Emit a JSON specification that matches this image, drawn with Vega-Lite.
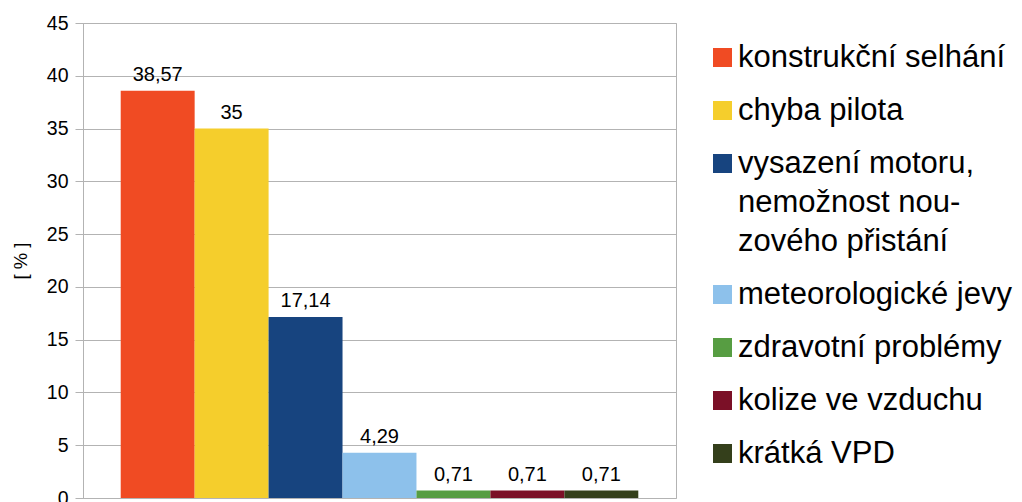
{
  "$schema": "https://vega.github.io/schema/vega-lite/v6.json",
  "width": 593,
  "height": 475,
  "autosize": {"type": "none"},
  "padding": {"left": 83, "top": 23, "right": 346, "bottom": 4},
  "background": "white",
  "data": {
    "values": [
      {"cause": "konstrukční selhání", "pct": 38.57},
      {"cause": "chyba pilota", "pct": 35},
      {"cause": "vysazení motoru, nemožnost nouzového přistání", "pct": 17.14},
      {"cause": "meteorologické jevy", "pct": 4.29},
      {"cause": "zdravotní problémy", "pct": 0.71},
      {"cause": "kolize ve vzduchu", "pct": 0.71},
      {"cause": "krátká VPD", "pct": 0.71}
    ]
  },
  "encoding": {
    "x": {
      "field": "cause",
      "type": "nominal",
      "sort": null,
      "axis": null,
      "scale": {"paddingInner": 0, "paddingOuter": 0.51}
    },
    "y": {
      "field": "pct",
      "type": "quantitative",
      "scale": {"domain": [0, 45], "nice": false},
      "axis": {
        "title": "[ % ]",
        "values": [0, 5, 10, 15, 20, 25, 30, 35, 40, 45],
        "grid": true,
        "gridColor": "#b3b3b3",
        "domainColor": "#b3b3b3",
        "tickColor": "#b3b3b3",
        "tickSize": 8,
        "labelPadding": 7,
        "labelFont": "Liberation Sans",
        "labelFontSize": 19.5,
        "labelColor": "#000000",
        "titleFont": "Liberation Sans",
        "titleFontSize": 18.5,
        "titleFontWeight": "normal",
        "titleColor": "#000000",
        "titlePadding": 16
      }
    }
  },
  "layer": [
    {
      "mark": {"type": "bar"},
      "encoding": {
        "color": {
          "field": "cause",
          "type": "nominal",
          "sort": null,
          "scale": {
            "domain": ["konstrukční selhání", "chyba pilota", "vysazení motoru, nemožnost nouzového přistání", "meteorologické jevy", "zdravotní problémy", "kolize ve vzduchu", "krátká VPD"],
            "range": ["#F04B23", "#F5CE2C", "#17447F", "#8DC1EB", "#579D42", "#7B1027", "#343F1B"]
          },
          "legend": {
            "title": null,
            "orient": "none",
            "legendX": 624,
            "legendY": 19,
            "padding": 0,
            "symbolType": "square",
            "symbolSize": 361,
            "symbolStrokeWidth": 0,
            "labelFont": "Liberation Sans",
            "labelFontSize": 31,
            "labelColor": "#000000",
            "labelLimit": 0,
            "labelOffset": 0,
            "rowPadding": 21,
            "labelExpr": "datum.label == 'vysazení motoru, nemožnost nouzového přistání' ? ['vysazení motoru,', 'nemožnost nou-', 'zového přistání'] : datum.label"
          }
        }
      }
    },
    {
      "mark": {"type": "text", "baseline": "bottom", "dy": -6, "font": "Liberation Sans", "fontSize": 20, "color": "#000000"},
      "encoding": {
        "text": {"field": "pct", "type": "quantitative", "format": ".2~f"}
      }
    }
  ],
  "config": {
    "view": {"stroke": "#b3b3b3"},
    "locale": {"number": {"decimal": ",", "thousands": " ", "grouping": [3], "currency": ["", " Kč"]}},
    "style": {"guide-label": {"lineHeight": 39}}
  }
}
